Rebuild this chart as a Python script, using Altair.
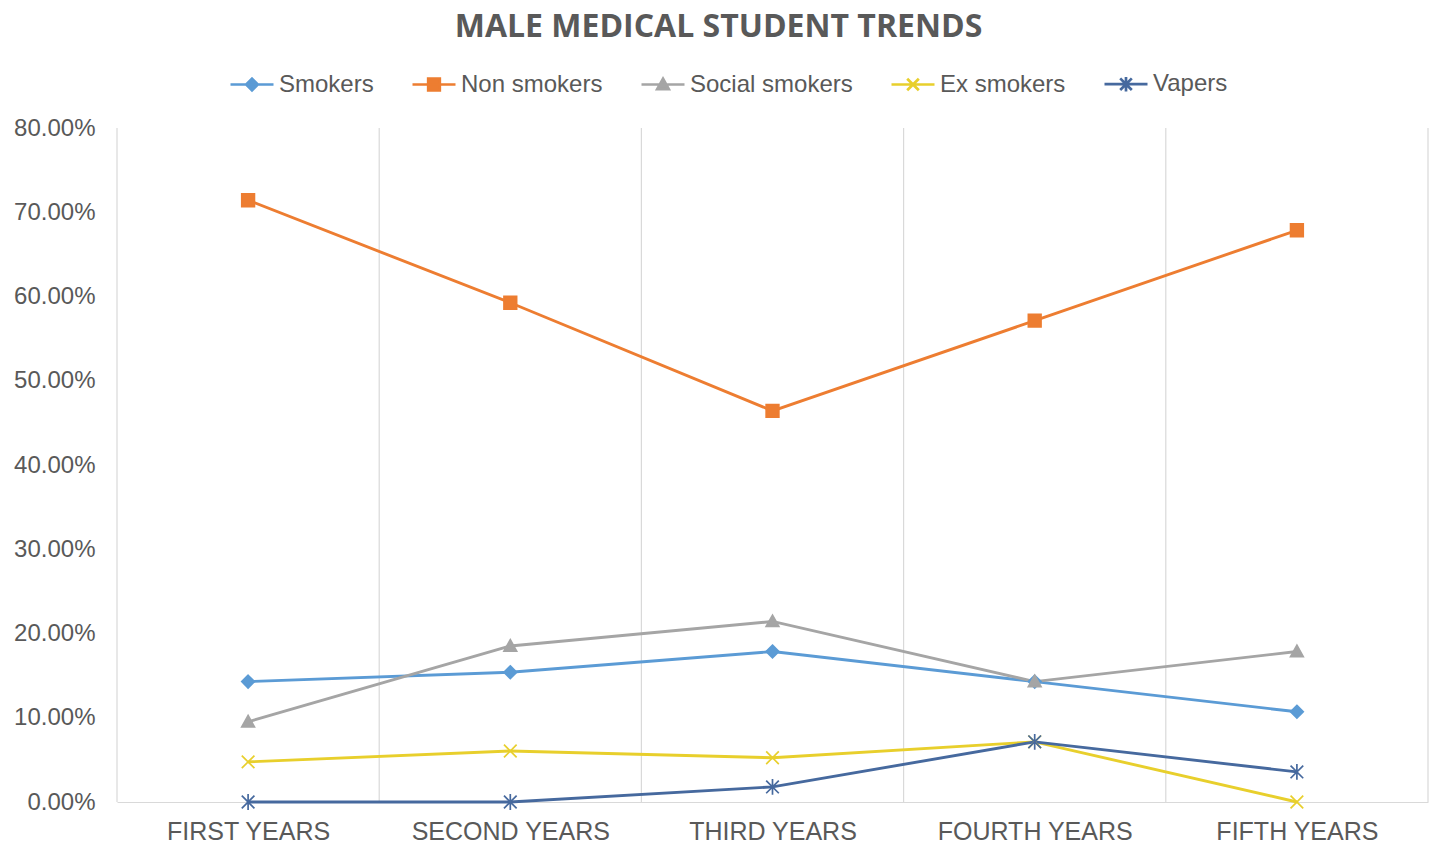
import altair as alt
import pandas as pd

# ---- data -------------------------------------------------------------
categories = ["FIRST YEARS", "SECOND YEARS", "THIRD YEARS", "FOURTH YEARS", "FIFTH YEARS"]
series = ["Smokers", "Non smokers", "Social smokers", "Ex smokers", "Vapers"]

smokers = [0.1429, 0.1540, 0.1786, 0.1429, 0.1071]
non_smokers = [0.7143, 0.5926, 0.4643, 0.5714, 0.6786]
social_smokers = [0.0952, 0.1852, 0.2143, 0.1429, 0.1786]
ex_smokers = [0.0476, 0.0605, 0.0525, 0.0714, 0.0]
vapers = [0.0, 0.0, 0.0179, 0.0714, 0.0357]

y_ticks = [0.0, 0.1, 0.2, 0.3, 0.4, 0.5, 0.6, 0.7, 0.8]

# ---- styling ------------------------------------------------------------
colors = ["#5B9BD5", "#ED7D31", "#A5A5A5", "#E8CF2C", "#46699E"]

# marker glyphs (unit box -1..1)
marker_paths = [
    "M0,-1L1,0L0,1L-1,0Z",                       # diamond
    "M-1,-1H1V1H-1Z",                            # square
    "M0,-1L1,0.8H-1Z",                           # triangle
    "M-1,-1L1,1M-1,1L1,-1",                      # x
    "M-1,-1L1,1M-1,1L1,-1M0,-1.25V1.25",         # asterisk
]


def legend_glyph(path, k=0.27):
    """Short line segment with the marker drawn small in its middle."""
    out = []
    num = ""
    for ch in path:
        if ch in "-.0123456789":
            num += ch
        else:
            if num:
                out.append(f"{float(num) * k:.3f}")
                num = ""
            out.append(ch)
    if num:
        out.append(f"{float(num) * k:.3f}")
    return "M-1,0H1" + "".join(out)


legend_paths = [legend_glyph(p) for p in marker_paths]

GRID = "#D9D9D9"
TEXT = "#595959"

# ---- tidy table -----------------------------------------------------------
values = [smokers, non_smokers, social_smokers, ex_smokers, vapers]
rows = []
for s, vals in zip(series, values):
    for i, v in enumerate(vals):
        rows.append({"series": s, "idx": i, "year": categories[i], "value": v})
df = pd.DataFrame(rows)

bounds = pd.DataFrame({"idx": [i - 0.5 for i in range(len(categories) + 1)]})

x_scale = alt.Scale(domain=[-0.5, len(categories) - 0.5], nice=False, zero=False)
y_scale = alt.Scale(domain=[0, 0.8], nice=False)

# index -> category name for the axis labels
label_expr = ""
for i, c in enumerate(categories):
    label_expr += f"datum.value == {i} ? '{c}' : "
label_expr += "''"

x_axis = alt.Axis(
    values=list(range(len(categories))),
    labelExpr=label_expr,
    title=None,
    grid=False,
    ticks=False,
    tickSize=0,
    domain=True,
    domainColor=GRID,
    domainWidth=1.2,
    labelFont="Liberation Sans",
    labelFontSize=25,
    labelColor=TEXT,
    labelPadding=17,
    labelLimit=400,
)
y_axis = alt.Axis(
    values=y_ticks,
    format=".2%",
    title=None,
    grid=False,
    ticks=False,
    tickSize=0,
    domain=False,
    labelFont="Liberation Sans",
    labelFontSize=24,
    labelColor=TEXT,
    labelPadding=22,
)

# every layer shares the same axis definitions so they merge into one
x_enc = alt.X("idx:Q", scale=x_scale, axis=x_axis)
y_enc = alt.Y("value:Q", scale=y_scale, axis=y_axis)

# vertical category separators (Excel-style gridlines between categories)
grid = alt.Chart(bounds).mark_rule(color=GRID, strokeWidth=1.2).encode(x=x_enc)

lines = alt.Chart(df).mark_line(strokeWidth=2.9).encode(
    x=x_enc,
    y=y_enc,
    color=alt.Color("series:N", scale=alt.Scale(domain=series, range=colors), legend=None),
    detail="series:N",
)

points = alt.Chart(df).mark_point(filled=False, strokeWidth=1.7, size=160, opacity=1).encode(
    x=x_enc,
    y=y_enc,
    shape=alt.Shape("series:N", scale=alt.Scale(domain=series, range=marker_paths), legend=None),
    fill=alt.Fill("series:N", scale=alt.Scale(domain=series, range=colors), legend=None),
    stroke=alt.Stroke("series:N", scale=alt.Scale(domain=series, range=colors), legend=None),
)

# legend carrier: no visible marks, only the legend (line + marker glyphs)
legend_layer = (
    alt.Chart(df)
    .transform_filter("false")
    .mark_point(strokeWidth=2.7, opacity=1)
    .encode(
        x=x_enc,
        y=y_enc,
        shape=alt.Shape(
            "series:N",
            scale=alt.Scale(domain=series, range=legend_paths),
            legend=alt.Legend(
                title=None,
                orient="none",
                direction="horizontal",
                legendX=112,
                legendY=-67,
                symbolSize=1849,
                symbolStrokeWidth=2.7,
                columnPadding=33,
                labelOffset=4,
                labelLimit=400,
                labelFont="Liberation Sans Narrow, Liberation Sans",
                labelFontSize=24,
                labelColor=TEXT,
                padding=0,
            ),
        ),
        fill=alt.Fill("series:N", scale=alt.Scale(domain=series, range=colors)),
        stroke=alt.Stroke("series:N", scale=alt.Scale(domain=series, range=colors)),
    )
)

chart = (
    alt.layer(grid, lines, points, legend_layer)
    .resolve_scale(shape="independent", fill="independent", stroke="independent")
    .resolve_legend(shape="independent", fill="independent", stroke="independent")
    .properties(
        width=1311,
        height=674,
        background="white",
        autosize=alt.AutoSizeParams(type="none"),
        padding={"left": 117, "top": 128, "right": 8, "bottom": 41},
        title=alt.TitleParams(
            "MALE MEDICAL STUDENT TRENDS",
            anchor="middle",
            frame="group",
            dx=-54,
            dy=8,
            offset=0,
            baseline="alphabetic",
            font="Open Sans",
            fontSize=32,
            fontWeight="bold",
            color=TEXT,
        ),
    )
    .configure_view(strokeWidth=0, stroke="transparent")
)

chart.save("out.html", embed_options={"renderer": "svg", "actions": False})
